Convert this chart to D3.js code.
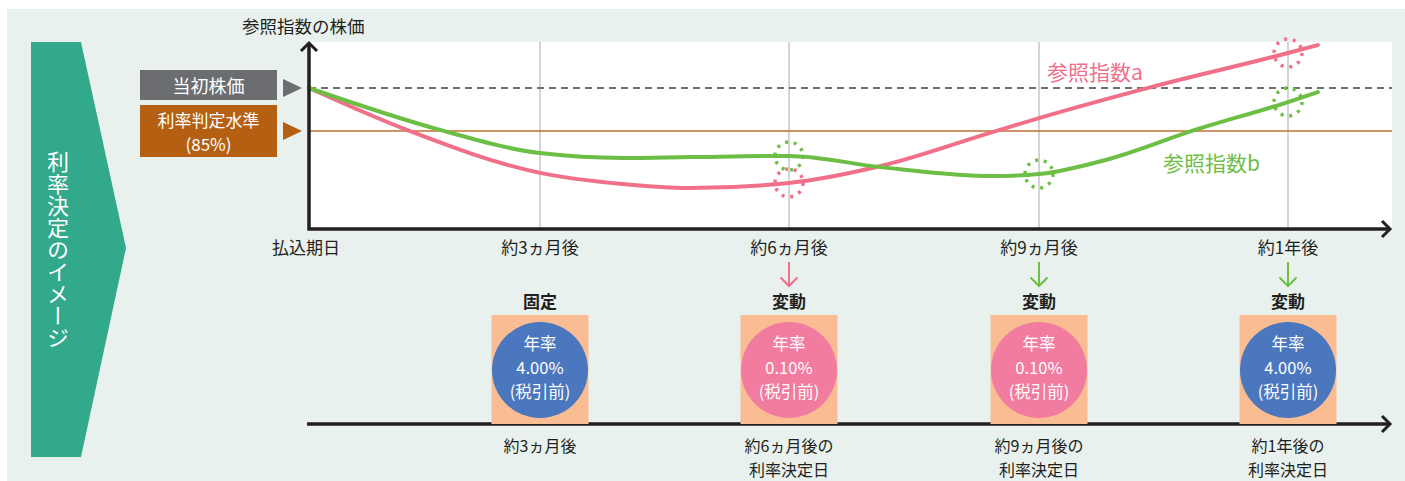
<!DOCTYPE html>
<html><head>
<meta charset="utf-8">
<script src="https://d3js.org/d3.v7.min.js"></script>
<style>
  body { margin: 0; background: #fff; }
  text { font-family: "Noto Sans CJK JP", "Noto Sans", sans-serif; }
</style>
</head>
<body>
<svg id="chart" width="1405" height="481"></svg>
<script>
// ---- data ----
const tickMonths = [0, 3, 6, 9, 12];
const tickLabels = ["払込期日", "約3ヵ月後", "約6ヵ月後", "約9ヵ月後", "約1年後"];

// reference index a / b : [month, price as % of initial]
const indexA = [[0, 100], [1.27, 85.4], [3, 70.4], [4, 66.5], [4.8, 65.1], [6, 66.9], [7.1, 72.8],
                [8.45, 84.7], [9, 89.5], [10.35, 100.3], [12, 112.2], [12.36, 115]];
const indexB = [[0, 100], [1.7, 85.4], [3, 77.3], [4, 75.6], [4.8, 75.9], [6, 76.3], [7.1, 72.4],
                [8.45, 69.3], [9, 70], [9.8, 74.9], [10.88, 85.4], [12, 95.1], [12.36, 98.6]];

const initialLevel = 100;
const judgeLevel = 85;

// dotted check circles: which series at which month
const checkSeries = ["a", "a", "b", "b", "b"];
const checkMonths = [6, 12, 6, 9, 12];

// rate decisions
const rateMonths = [3, 6, 9, 12];
const rateKinds = ["固定", "変動", "変動", "変動"];
const rateArrows = [null, "a", "b", "b"];
const rateValues = ["4.00%", "0.10%", "0.10%", "4.00%"];
const rateDates = [["約3ヵ月後"], ["約6ヵ月後の", "利率決定日"], ["約9ヵ月後の", "利率決定日"], ["約1年後の", "利率決定日"]];

// ---- setup ----
const svg = d3.select("svg#chart");
const colA = "#EF7088", colB = "#6DBE45";
const ink = "#231F20";

const x = d3.scaleLinear().domain([0, 3, 6, 9, 12]).range([309, 540, 789, 1039, 1288]);
const y = d3.scaleLinear().domain([judgeLevel, initialLevel]).range([131, 88]);

// background panel
svg.append("rect").attr("x", 7).attr("y", 9).attr("width", 1398).attr("height", 472).style("fill", "#E8F1EE");

// left banner
svg.append("path")
   .attr("d", "M31,42 L81,42 L126,248 L81,457 L31,457 Z")
   .style("fill", "#31A98A");
svg.append("text")
   .attr("x", 58).attr("y", 151)
   .style("writing-mode", "vertical-rl")
   .style("font-size", "22px")
   .style("fill", "#fff")
   .text("利率決定のイメージ");

// plot area
svg.append("rect").attr("x", 309).attr("y", 42).attr("width", 1083).attr("height", 187).style("fill", "#fff");

// vertical gridlines
for (let i = 1; i < tickMonths.length; i++) {
  svg.append("line")
     .attr("x1", x(tickMonths[i])).attr("x2", x(tickMonths[i]))
     .attr("y1", 42).attr("y2", 229)
     .style("stroke", "#C6C6C6").style("stroke-width", 1.5);
}

// reference lines
svg.append("line")
   .attr("x1", 309).attr("x2", 1392).attr("y1", y(initialLevel)).attr("y2", y(initialLevel))
   .style("stroke", "#707070").style("stroke-width", 2).style("stroke-dasharray", "7,5");
svg.append("line")
   .attr("x1", 309).attr("x2", 1392).attr("y1", y(judgeLevel)).attr("y2", y(judgeLevel))
   .style("stroke", "#BE7131").style("stroke-width", 1.5);

// level label boxes + triangles
svg.append("rect").attr("x", 140).attr("y", 70).attr("width", 137).attr("height", 30).style("fill", "#6C6D70");
svg.append("text").attr("x", 208.5).attr("y", 85).attr("text-anchor", "middle").attr("dominant-baseline", "central")
   .style("font-size", "18px").style("fill", "#fff").text("当初株価");
svg.append("rect").attr("x", 140).attr("y", 105).attr("width", 137).attr("height", 52).style("fill", "#B45F12");
svg.append("text").attr("x", 208.5).attr("y", 119).attr("text-anchor", "middle").attr("dominant-baseline", "central")
   .style("font-size", "17px").style("fill", "#fff").text("利率判定水準");
svg.append("text").attr("x", 208.5).attr("y", 143.7).attr("text-anchor", "middle").attr("dominant-baseline", "central")
   .style("font-size", "17px").style("fill", "#fff").text("(85%)");

[[initialLevel, "#6C6D70"], [judgeLevel, "#B45F12"]].forEach(([v, c]) => {
  const ty = y(v);
  svg.append("path")
     .attr("d", `M283,${ty - 9} L302,${ty} L283,${ty + 9} Z`)
     .style("fill", c);
});

// curves
const line = d3.line().x(d => x(d[0])).y(d => y(d[1])).curve(d3.curveMonotoneX);
svg.append("path").datum(indexA).attr("d", line)
   .style("fill", "none").style("stroke", colA).style("stroke-width", 4).style("stroke-linecap", "round");
svg.append("path").datum(indexB).attr("d", line)
   .style("fill", "none").style("stroke", colB).style("stroke-width", 4).style("stroke-linecap", "round");

// dotted check circles
const valueAt = (series, m) => series.find(d => d[0] === m)[1];
checkMonths.forEach((m, i) => {
  const s = checkSeries[i] === "a" ? indexA : indexB;
  svg.append("circle")
     .attr("cx", x(m)).attr("cy", y(valueAt(s, m))).attr("r", 14)
     .style("fill", "none")
     .style("stroke", checkSeries[i] === "a" ? colA : colB)
     .style("stroke-width", 3.5)
     .style("stroke-dasharray", "3,5.8");
});

// series labels
svg.append("text").attr("x", 1047).attr("y", 80).style("font-size", "21px").style("fill", colA).text("参照指数a");
svg.append("text").attr("x", 1163).attr("y", 171).style("font-size", "21px").style("fill", colB).text("参照指数b");

// axes
svg.append("path")
   .attr("d", "M309,43 L309,229 L1390,229")
   .style("fill", "none").style("stroke", ink).style("stroke-width", 3.5);
svg.append("path").attr("d", "M301,51 L309,43 L317,51")
   .style("fill", "none").style("stroke", ink).style("stroke-width", 3);
svg.append("path").attr("d", "M1382,221 L1390,229 L1382,237")
   .style("fill", "none").style("stroke", ink).style("stroke-width", 3);

svg.append("text").attr("x", 242).attr("y", 33).style("font-size", "17.5px").style("fill", ink).text("参照指数の株価");

tickMonths.forEach((m, i) => {
  svg.append("text")
     .attr("x", i === 0 ? x(m) - 3 : x(m)).attr("y", 254)
     .attr("text-anchor", "middle")
     .style("font-size", "17px").style("fill", ink)
     .text(tickLabels[i]);
});

// rate decision timeline
svg.append("line").attr("x1", 307).attr("x2", 1390).attr("y1", 424).attr("y2", 424)
   .style("stroke", ink).style("stroke-width", 3.5);
svg.append("path").attr("d", "M1382,416 L1390,424 L1382,432")
   .style("fill", "none").style("stroke", ink).style("stroke-width", 3);

rateMonths.forEach((m, i) => {
  const cx = x(m);
  if (rateArrows[i]) {
    const c = rateArrows[i] === "a" ? colA : colB;
    svg.append("path").attr("d", `M${cx},262 L${cx},286 M${cx - 8.5},277.5 L${cx},286 L${cx + 8.5},277.5`)
       .style("fill", "none").style("stroke", c).style("stroke-width", 2);
  }
  svg.append("text").attr("x", cx).attr("y", 308).attr("text-anchor", "middle")
     .style("font-size", "17px").style("font-weight", "bold").style("fill", ink).text(rateKinds[i]);

  svg.append("rect").attr("x", cx - 48.5).attr("y", 315).attr("width", 97).attr("height", 109).style("fill", "#F9BC93");
  const fixed = rateValues[i] === "4.00%";
  svg.append("circle").attr("cx", cx).attr("cy", 370).attr("r", 48)
     .style("fill", fixed ? "#4A77BD" : "#F27CA0");
  ["年率", rateValues[i], "(税引前)"].forEach((t, k) => {
    svg.append("text").attr("x", cx).attr("y", 343 + k * 24)
       .attr("text-anchor", "middle").attr("dominant-baseline", "central")
       .style("font-size", "16.5px").style("fill", "#fff").text(t);
  });

  // date label, wrapped into lines within one text element
  const dt = svg.append("text").attr("x", cx).attr("y", 452).attr("text-anchor", "middle")
     .style("font-size", "16px").style("fill", ink);
  rateDates[i].forEach((t, k) => {
    dt.append("tspan").attr("x", cx).attr("dy", k === 0 ? 0 : 23.5).text(t);
  });
});
</script>
</body>
</html>
